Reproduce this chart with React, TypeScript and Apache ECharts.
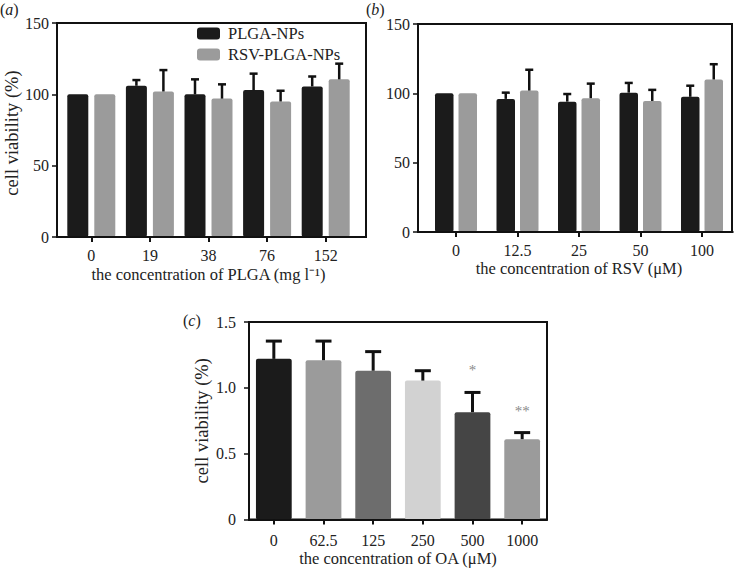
import React, { useEffect, useRef } from "react";
import * as echarts from "echarts";

// Panel (a): PLGA concentration
const plgaCats = ["0", "19", "38", "76", "152"];
const plgaNPsA = [100, 106, 100, 103, 105.5];
const plgaNPsErrA = [0, 4, 10.5, 11.5, 7];
const rsvPlgaNPsA = [100, 102, 97, 95, 110.5];
const rsvPlgaNPsErrA = [0, 15, 10, 7.5, 11];

// Panel (b): RSV concentration
const rsvCats = ["0", "12.5", "25", "50", "100"];
const plgaNPsB = [100, 96, 94, 100.5, 97.5];
const plgaNPsErrB = [0, 4.5, 5.5, 7, 8];
const rsvPlgaNPsB = [100, 102, 96.5, 94.5, 110];
const rsvPlgaNPsErrB = [0, 15, 10.5, 8, 11];

// Panel (c): OA concentration
const oaCats = ["0", "62.5", "125", "250", "500", "1000"];
const oaValues = [1.22, 1.21, 1.13, 1.055, 0.815, 0.61];
const oaErr = [0.135, 0.145, 0.145, 0.075, 0.15, 0.05];
const oaSig = ["", "", "", "", "*", "**"];
const oaColors = ["#1b1b1b", "#9b9b9b", "#6d6d6d", "#d2d2d2", "#454545", "#9b9b9b"];

const FONT = "'Liberation Serif', 'Times New Roman', serif";
const TXT = "#222";
const BLACK = "#1b1b1b";
const GRAY = "#9b9b9b";

function errSeries(
  name: string,
  xi: number,
  yi: number,
  vals: number[],
  errs: number[],
  offset: number,
  cap: number,
  lw: number,
  labels?: string[]
) {
  return {
    type: "custom",
    name,
    xAxisIndex: xi,
    yAxisIndex: yi,
    z: 4,
    silent: true,
    data: vals.map((v, i) => [i, v, errs[i]]),
    renderItem: (params: any, api: any) => {
      const x = api.value(0);
      const v = api.value(1);
      const e = api.value(2);
      if (!e) return null;
      const base = api.coord([x, v]);
      const top = api.coord([x, v + e]);
      const cx = base[0] + offset;
      const children: any[] = [
        {
          type: "line",
          shape: { x1: cx, y1: base[1], x2: cx, y2: top[1] },
          style: { stroke: "#111", lineWidth: lw },
        },
        {
          type: "line",
          shape: { x1: cx - cap / 2, y1: top[1], x2: cx + cap / 2, y2: top[1] },
          style: { stroke: "#111", lineWidth: lw },
        },
      ];
      const lab = labels ? labels[params.dataIndex] : "";
      if (lab) {
        children.push({
          type: "text",
          style: {
            text: lab,
            x: cx,
            y: top[1] - 22,
            fill: "#8a8a8a",
            fontSize: 15,
            fontFamily: FONT,
            align: "center",
            verticalAlign: "middle",
          },
        });
      }
      return { type: "group", children };
    },
  };
}

function outerY(gridIndex: number, min: number, max: number, interval: number, fmt: (v: number) => string, margin: number, name?: string, nameGap?: number, namePad?: number[]) {
  return {
    type: "value",
    gridIndex,
    min,
    max,
    interval,
    name: name || "",
    nameLocation: "middle",
    nameGap: nameGap || 0,
    nameTextStyle: { fontFamily: FONT, fontSize: 18.5, color: TXT, padding: namePad || [0, 0, 0, 0] },
    axisLine: { show: true, lineStyle: { color: "#111", width: 2 } },
    axisTick: { show: true, length: 5, lineStyle: { color: "#111", width: 1.5 } },
    axisLabel: { fontFamily: FONT, fontSize: 16, color: TXT, margin, formatter: fmt },
    splitLine: { show: false },
  };
}

function catX(gridIndex: number, data: string[], name: string, nameGap: number, margin: number) {
  return {
    type: "category",
    gridIndex,
    data,
    z: 5,
    name,
    nameLocation: "middle",
    nameGap,
    nameTextStyle: { fontFamily: FONT, fontSize: 16.5, color: TXT },
    axisLine: { show: true, lineStyle: { color: "#111", width: 2 } },
    axisTick: { show: true, alignWithLabel: true, length: 5, lineStyle: { color: "#111", width: 2 } },
    axisLabel: { fontFamily: FONT, fontSize: 16, color: TXT, margin },
    splitLine: { show: false },
  };
}

function panelLabel(letter: string, x: number, y: number) {
  return {
    type: "text",
    x,
    y,
    style: {
      text: "{n|(}{i|" + letter + "}{n|)}",
      rich: {
        n: { fontFamily: FONT, fontSize: 16, fill: TXT },
        i: { fontFamily: FONT, fontSize: 16, fontStyle: "italic", fill: TXT },
      },
    },
  };
}

export default function App() {
  const ref = useRef<HTMLDivElement>(null);

  useEffect(() => {
    if (!ref.current) return;
    const chart = echarts.init(ref.current, undefined, { renderer: "svg" });
    const abFmt = (v: number) => String(v);
    const cFmt = (v: number) => (v === 0 ? "0" : v.toFixed(1));

    const option: any = {
      animation: false,
      backgroundColor: "#fff",
      legend: {
        data: ["PLGA-NPs", "RSV-PLGA-NPs"],
        orient: "vertical",
        left: 197,
        top: 25,
        padding: 0,
        icon: "roundRect",
        itemWidth: 23,
        itemHeight: 12,
        itemGap: 4,
        textStyle: { fontFamily: FONT, fontSize: 16.5, color: TXT, lineHeight: 16, padding: [0, 0, 0, 3] },
        selectedMode: false,
      },
      grid: [
        { left: 57, top: 23, width: 309, height: 214, show: true, borderColor: "#111", borderWidth: 2, backgroundColor: "transparent" },
        { left: 62, top: 23, width: 293, height: 214 },
        { left: 418, top: 24, width: 314, height: 208, show: true, borderColor: "#111", borderWidth: 2, backgroundColor: "transparent" },
        { left: 425.25, top: 24, width: 307.5, height: 208 },
        { left: 249, top: 322, width: 298, height: 197.5, show: true, borderColor: "#111", borderWidth: 2, backgroundColor: "transparent" },
      ],
      xAxis: [
        { type: "value", gridIndex: 0, show: false, min: 0, max: 1 },
        catX(1, plgaCats, "the concentration of PLGA (mg l\u207B\u00B9)", 29, 10),
        { type: "value", gridIndex: 2, show: false, min: 0, max: 1 },
        catX(3, rsvCats, "the concentration of RSV (\u03BCM)", 28, 10),
        catX(4, oaCats, "the concentration of OA (\u03BCM)", 30, 13),
      ],
      yAxis: [
        outerY(0, 0, 150, 50, abFmt, 8, "cell viability (%)", 30, [0, 6, 0, 0]),
        { type: "value", gridIndex: 1, show: false, min: 0, max: 150, interval: 50 },
        outerY(2, 0, 150, 50, abFmt, 8),
        { type: "value", gridIndex: 3, show: false, min: 0, max: 150, interval: 50 },
        outerY(4, 0, 1.5, 0.5, cFmt, 13, "cell viability (%)", 38),
      ],
      series: [
        {
          type: "bar", name: "PLGA-NPs", xAxisIndex: 1, yAxisIndex: 1, data: plgaNPsA,
          barWidth: 21, barGap: "28.57%", itemStyle: { color: BLACK, borderRadius: 2 }, z: 2,
        },
        {
          type: "bar", name: "RSV-PLGA-NPs", xAxisIndex: 1, yAxisIndex: 1, data: rsvPlgaNPsA,
          barWidth: 21, barGap: "28.57%", itemStyle: { color: GRAY, borderRadius: 2 }, z: 2,
        },
        errSeries("errA1", 1, 1, plgaNPsA, plgaNPsErrA, -13.5, 8, 2.5),
        errSeries("errA2", 1, 1, rsvPlgaNPsA, rsvPlgaNPsErrA, 13.5, 8, 2.5),
        {
          type: "bar", name: "PLGA-NPs", xAxisIndex: 3, yAxisIndex: 3, data: plgaNPsB,
          barWidth: 18.5, barGap: "27%", itemStyle: { color: BLACK, borderRadius: 2 }, z: 2,
        },
        {
          type: "bar", name: "RSV-PLGA-NPs", xAxisIndex: 3, yAxisIndex: 3, data: rsvPlgaNPsB,
          barWidth: 18.5, barGap: "27%", itemStyle: { color: GRAY, borderRadius: 2 }, z: 2,
        },
        errSeries("errB1", 3, 3, plgaNPsB, plgaNPsErrB, -11.75, 8, 2.5),
        errSeries("errB2", 3, 3, rsvPlgaNPsB, rsvPlgaNPsErrB, 11.75, 8, 2.5),
        {
          type: "bar", name: "OA", xAxisIndex: 4, yAxisIndex: 4,
          data: oaValues.map((v, i) => ({ value: v, itemStyle: { color: oaColors[i] } })),
          barCategoryGap: "28%", itemStyle: { borderRadius: 2 }, z: 2,
        },
        errSeries("errC", 4, 4, oaValues, oaErr, 0, 16, 3, oaSig),
      ],
      graphic: [
        panelLabel("a", 0, 1),
        panelLabel("b", 366, 1),
        panelLabel("c", 183, 312),
      ],
    };

    chart.setOption(option);
    return () => chart.dispose();
  }, []);

  return (
    <div
      ref={ref}
      style={{ position: "fixed", left: 0, top: 0, width: 737, height: 569, background: "#fff" }}
    />
  );
}
